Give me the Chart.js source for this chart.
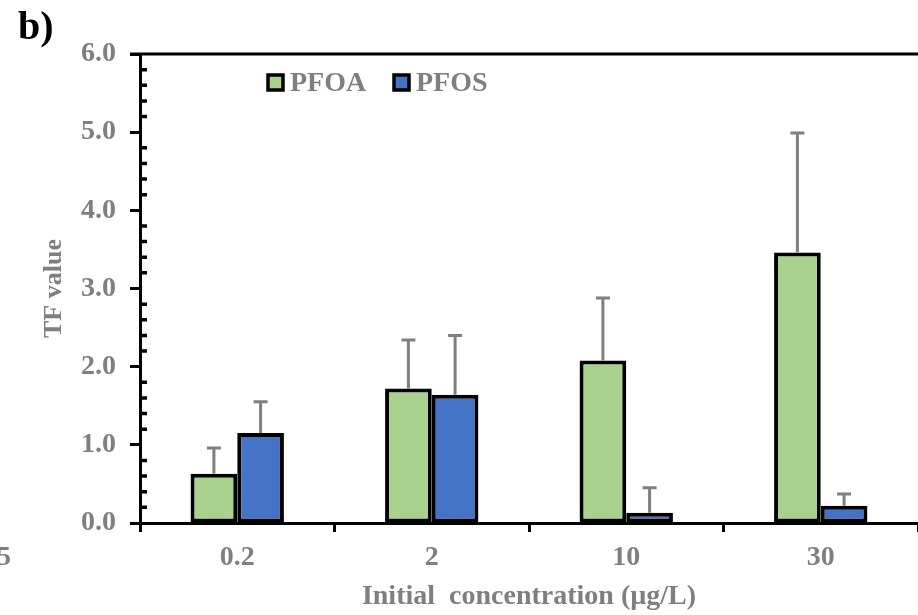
<!DOCTYPE html>
<html>
<head>
<meta charset="utf-8">
<script src="https://cdn.jsdelivr.net/npm/chart.js@4"></script>
<style>
  html, body { margin: 0; padding: 0; background: #fff; overflow: hidden; }
</style>
</head>
<body>
<canvas id="tfChart" width="918" height="615"></canvas>
<script>
// TF values (mean and SD) per initial concentration
const concentrations = ['0.2', '2', '10', '30'];
const pfoaTF = [0.63, 1.72, 2.08, 3.46];
const pfoaSD = [0.33, 0.62, 0.80, 1.53];
const pfosTF = [1.15, 1.64, 0.13, 0.22];
const pfosSD = [0.40, 0.76, 0.32, 0.15];
const yMin = 0, yMax = 6, yStep = 1, yMinorStep = 0.2;

const serif = "'Liberation Serif', 'Times New Roman', serif";
const grey = '#7f7f7f';

// upward-only error bars
const errorBars = {
    id: 'errorBars',
    afterDatasetsDraw(chart) {
        const ctx = chart.ctx;
        const y = chart.scales.y;
        ctx.save();
        ctx.strokeStyle = grey;
        ctx.lineWidth = 3;
        chart.data.datasets.forEach((ds, i) => {
            chart.getDatasetMeta(i).data.forEach((bar, j) => {
                const top = y.getPixelForValue(ds.data[j] + ds.sd[j]);
                ctx.beginPath();
                ctx.moveTo(bar.x, bar.y);
                ctx.lineTo(bar.x, top);
                ctx.moveTo(bar.x - 7, top);
                ctx.lineTo(bar.x + 7, top);
                ctx.stroke();
            });
        });
        ctx.restore();
    }
};

// top frame line, inner minor ticks, legend and panel letter
const decorations = {
    id: 'decorations',
    afterDraw(chart) {
        const { ctx, chartArea: a, scales: { y } } = chart;
        ctx.save();
        ctx.strokeStyle = '#000';
        ctx.lineWidth = 3;
        ctx.beginPath();
        ctx.moveTo(a.left - 10, a.top);
        ctx.lineTo(a.right, a.top);
        ctx.stroke();

        ctx.lineWidth = 3.5;
        ctx.beginPath();
        for (let k = 1; k * yMinorStep < yMax; k++) {
            const v = k * yMinorStep;
            if (Math.abs(v - Math.round(v)) < 1e-6) continue;
            const py = y.getPixelForValue(v);
            ctx.moveTo(a.left, py);
            ctx.lineTo(a.left + 7, py);
        }
        ctx.stroke();

        // legend
        ctx.font = 'bold 28px ' + serif;
        ctx.textBaseline = 'middle';
        ctx.textAlign = 'left';
        let lx = 268;
        const ly = 83;
        chart.data.datasets.forEach(ds => {
            ctx.fillStyle = ds.backgroundColor;
            ctx.fillRect(lx, ly - 8, 15, 15);
            ctx.lineWidth = 3.5;
            ctx.strokeStyle = '#000';
            ctx.strokeRect(lx, ly - 8, 15, 15);
            ctx.fillStyle = grey;
            ctx.fillText(ds.label, lx + 22, ly + 1);
            lx += 126;
        });

        ctx.fillStyle = '#000';
        ctx.font = 'bold 40px ' + serif;
        ctx.textBaseline = 'alphabetic';
        ctx.fillText('b)', 18, 39);

        ctx.fillStyle = grey;
        ctx.font = 'bold 28px ' + serif;
        ctx.fillText('5', -3, 565);
        ctx.restore();
    }
};

new Chart(document.getElementById('tfChart'), {
    type: 'bar',
    data: {
        labels: concentrations,
        datasets: [{
            label: 'PFOA',
            data: pfoaTF,
            sd: pfoaSD,
            backgroundColor: '#a9d18e',
            borderColor: '#000',
            borderWidth: 4,
            borderSkipped: false
        }, {
            label: 'PFOS',
            data: pfosTF,
            sd: pfosSD,
            backgroundColor: '#4472c4',
            borderColor: '#000',
            borderWidth: 4,
            borderSkipped: false
        }]
    },
    options: {
        responsive: false,
        animation: false,
        layout: { padding: { top: 54, right: 0, left: 0, bottom: 0 } },
        categoryPercentage: 0.48,
        barPercentage: 1,
        plugins: {
            legend: { display: false },
            tooltip: { enabled: false }
        },
        scales: {
            x: {
                afterFit(scale) { scale.height = 92; },
                border: { color: '#000', width: 3 },
                grid: { drawOnChartArea: false, offset: true, tickLength: 9, tickWidth: 3, tickColor: '#000' },
                ticks: { color: grey, padding: 9, font: { family: serif, size: 28, weight: 'bold' } },
                title: {
                    display: true,
                    text: 'Initial  concentration (µg/L)',
                    color: grey,
                    padding: { top: 0, bottom: 1 },
                    font: { family: serif, size: 28, weight: 'bold' }
                }
            },
            y: {
                min: yMin,
                max: yMax,
                afterFit(scale) { scale.width = 140; },
                border: { color: '#000', width: 3 },
                grid: { drawOnChartArea: false, tickLength: 10, tickWidth: 3, tickColor: '#000' },
                ticks: {
                    stepSize: yStep,
                    color: grey,
                    padding: 14,
                    font: { family: serif, size: 28, weight: 'bold' },
                    callback: v => v.toFixed(1)
                },
                title: {
                    display: true,
                    text: 'TF value',
                    color: grey,
                    padding: { top: 39, bottom: 0 },
                    font: { family: serif, size: 26, weight: 'bold' }
                }
            }
        }
    },
    plugins: [errorBars, decorations]
});
</script>
</body>
</html>
